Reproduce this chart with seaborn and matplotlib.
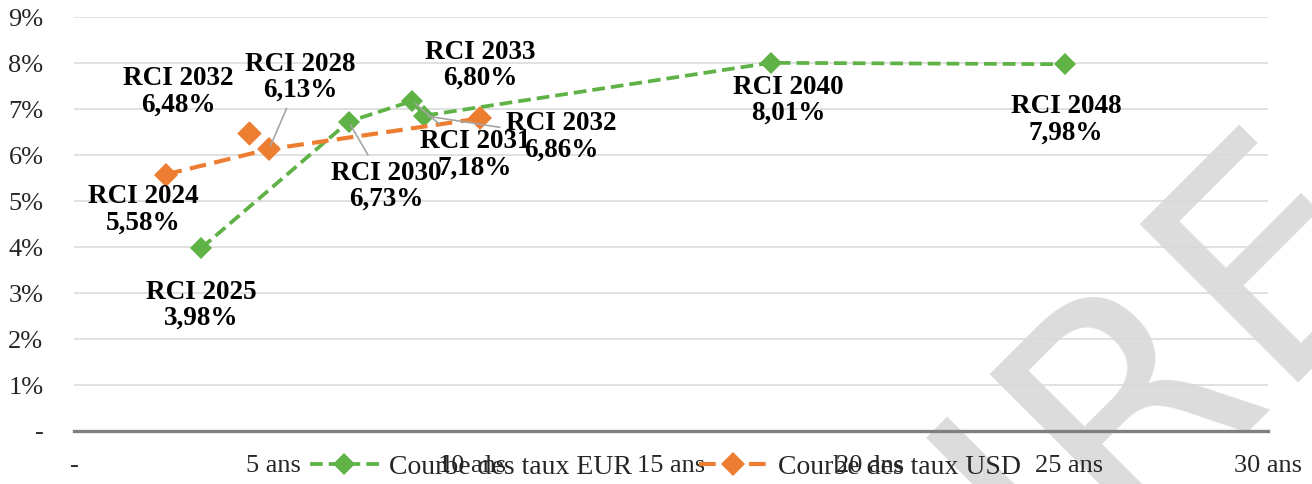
import numpy as np
import pandas as pd
import matplotlib
matplotlib.use("Agg")
import matplotlib.pyplot as plt
import seaborn as sns

# maturities (years) and rates (%)
eur_names = ["RCI 2025", "RCI 2030", "RCI 2031", "RCI 2032", "RCI 2040", "RCI 2048"]
eur_x = [3.2, 6.9, 8.5, 8.8, 17.5, 24.9]
eur_y = [3.98, 6.73, 7.18, 6.86, 8.01, 7.98]

usd_names = ["RCI 2024", "RCI 2032", "RCI 2028", "RCI 2033"]
usd_x = [2.3, 4.4, 4.9, 10.2]
usd_y = [5.58, 6.48, 6.13, 6.80]
usd_on_curve = [True, False, True, True]

x_ticks = [0, 5, 10, 15, 20, 25, 30]
x_labels = ["-", "5 ans", "10 ans", "15 ans", "20 ans", "25 ans", "30 ans"]
y_ticks = list(range(10))
y_labels = ["-"] + [f"{i}%" for i in range(1, 10)]

# label centres (data coords) and whether a leader line is drawn
eur_label_pos = [(3.19, 2.74), (7.84, 5.33), (10.08, 6.01), (12.24, 6.40), (17.96, 7.20), (24.92, 6.77)]
eur_leader = [False, True, True, True, False, False]
usd_label_pos = [(1.73, 4.81), (2.61, 7.38), (5.68, 7.70), (10.20, 7.95)]
usd_leader = [False, False, True, False]

green = "#5FB246"
orange = "#ED7D31"

sns.set_style("white")
plt.rcParams["font.family"] = ["Liberation Serif", "DejaVu Serif"]

eur = pd.DataFrame({"x": eur_x, "y": eur_y})
usd = pd.DataFrame({"x": usd_x, "y": usd_y, "on": usd_on_curve})

fig = plt.figure(figsize=(13.12, 4.84), dpi=100, facecolor="white")
ax = fig.add_axes([74 / 1312, 1 - 431 / 484, 1194 / 1312, (431 - 17.3) / 484])
ax.patch.set_visible(False)

sns.lineplot(data=eur, x="x", y="y", sort=False, ax=ax, color=green, lw=2.7,
             marker="D", markersize=11, markeredgewidth=0, label="Courbe des taux EUR",
             zorder=3)
ax.lines[-1].set_dashes((3.4, 1.6))
sns.lineplot(data=usd[usd["on"]], x="x", y="y", sort=False, ax=ax, color=orange, lw=3,
             marker="D", markersize=12.5, markeredgewidth=0, label="Courbe des taux USD",
             zorder=4)
ax.lines[-1].set_dashes((4, 2))
sns.scatterplot(data=usd[~usd["on"]], x="x", y="y", ax=ax, color=orange, marker="D",
                s=156, linewidth=0, zorder=4)


def pct(v):
    return f"{v:.2f}%".replace(".", ",")


for names, xs, ys, pos, lead in [(eur_names, eur_x, eur_y, eur_label_pos, eur_leader),
                                 (usd_names, usd_x, usd_y, usd_label_pos, usd_leader)]:
    for n, xv, yv, p, l in zip(names, xs, ys, pos, lead):
        ap = dict(arrowstyle="-", color="#A6A6A6", lw=1.2, shrinkA=2, shrinkB=3) if l else None
        ax.annotate(f"{n}\n{pct(yv)}", xy=(xv, yv), xytext=p, ha="center", va="center",
                    fontsize=19.5, fontweight="bold", linespacing=1.05, color="black",
                    arrowprops=ap, zorder=6)

ax.set_xlim(0, 30)
ax.set_ylim(0, 9)
ax.set_xticks(x_ticks)
ax.set_xticklabels(x_labels)
ax.set_yticks(y_ticks)
ax.set_yticklabels(y_labels)
ax.tick_params(axis="x", length=0, pad=17, labelsize=19)
ax.tick_params(axis="y", length=0, pad=22, labelsize=19)
ax.set_xlabel("")
ax.set_ylabel("")
ax.yaxis.grid(True, color="#D9D9D9", lw=1.1)
ax.set_axisbelow(True)
for s in ["top", "right", "left"]:
    ax.spines[s].set_visible(False)
ax.spines["bottom"].set_color("#7F7F7F")
ax.spines["bottom"].set_linewidth(2.4)

ax.legend(loc="center", bbox_to_anchor=(0.507, 0.035), bbox_transform=fig.transFigure,
          ncol=2, frameon=False, fontsize=20, handlelength=2.5, handletextpad=0.35,
          columnspacing=2.4, borderpad=0)

# watermark fragment, drawn behind the (transparent) axes
fig.text(1170 / 1312, 1 - 361 / 484, "IRE", fontsize=220, family="DejaVu Sans",
         color="#DCDCDC", rotation=45, rotation_mode="anchor", ha="center", va="center",
         zorder=-1)

fig.savefig("out.png", dpi=100, facecolor="white")
